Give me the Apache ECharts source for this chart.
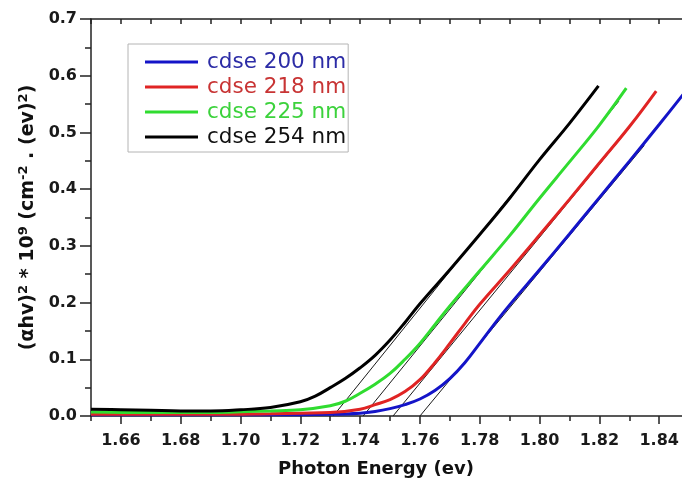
<!DOCTYPE html>
<html>
<head>
<meta charset="utf-8">
<script src="https://cdn.jsdelivr.net/npm/echarts@6/dist/echarts.min.js"></script>
<style>
  html, body { margin: 0; padding: 0; background: #fff; }
  #chart { width: 682px; height: 484px; }
</style>
</head>
<body>
<div id="chart"></div>
<script>
// Tauc plot of CdSe films: (alpha*h*nu)^2 against photon energy.
const seriesNames = ['cdse 200 nm', 'cdse 218 nm', 'cdse 225 nm', 'cdse 254 nm'];
const lineColors = ['#1414c8', '#e02424', '#30dc30', '#000000'];
const legendTextColors = ['#2c2ca6', '#c83434', '#3cd23c', '#111111'];

// Photon energy (eV) and (alpha*h*nu)^2 * 1e9 for each film
const energy200 = [1.65, 1.68, 1.71, 1.73, 1.74, 1.745, 1.75, 1.755, 1.76, 1.765, 1.77, 1.775, 1.78, 1.785, 1.79, 1.80, 1.81, 1.82, 1.83, 1.84, 1.85];
const alpha200  = [0.002, 0.002, 0.002, 0.003, 0.005, 0.008, 0.013, 0.020, 0.030, 0.045, 0.066, 0.094, 0.128, 0.163, 0.196, 0.258, 0.321, 0.385, 0.449, 0.514, 0.580];

const energy218 = [1.65, 1.67, 1.69, 1.71, 1.72, 1.73, 1.74, 1.745, 1.75, 1.755, 1.76, 1.765, 1.77, 1.775, 1.78, 1.79, 1.80, 1.81, 1.82, 1.83, 1.839];
const alpha218  = [0.003, 0.003, 0.003, 0.004, 0.005, 0.006, 0.012, 0.020, 0.029, 0.043, 0.064, 0.094, 0.128, 0.163, 0.197, 0.257, 0.319, 0.382, 0.446, 0.510, 0.573];

const energy225 = [1.65, 1.67, 1.69, 1.70, 1.71, 1.72, 1.73, 1.735, 1.74, 1.745, 1.75, 1.755, 1.76, 1.765, 1.77, 1.78, 1.79, 1.80, 1.81, 1.82, 1.829];
const alpha225  = [0.007, 0.006, 0.006, 0.0075, 0.009, 0.011, 0.018, 0.026, 0.040, 0.056, 0.075, 0.100, 0.128, 0.161, 0.194, 0.256, 0.318, 0.384, 0.448, 0.513, 0.578];

const energy254 = [1.65, 1.66, 1.67, 1.68, 1.69, 1.70, 1.71, 1.72, 1.725, 1.73, 1.735, 1.74, 1.745, 1.75, 1.755, 1.76, 1.77, 1.78, 1.79, 1.80, 1.81, 1.8197];
const alpha254  = [0.012, 0.011, 0.010, 0.009, 0.009, 0.011, 0.015, 0.025, 0.035, 0.050, 0.066, 0.085, 0.107, 0.134, 0.165, 0.198, 0.258, 0.320, 0.384, 0.452, 0.516, 0.582];

// Linear extrapolations to the energy axis (optical band gaps)
const bandGap = [1.760, 1.751, 1.741, 1.731];
const tangentTopEnergy = [1.835, 1.830, 1.8265, 1.815];
const tangentTopValue  = [0.477, 0.508, 0.555, 0.550];

// Axis ticks
const xMajorTicks = [1.66, 1.68, 1.70, 1.72, 1.74, 1.76, 1.78, 1.80, 1.82, 1.84, 1.86];
const xMinorTicks = [1.65, 1.67, 1.69, 1.71, 1.73, 1.75, 1.77, 1.79, 1.81, 1.83, 1.85];
const xAllTicks = xMajorTicks.concat(xMinorTicks).sort((a, b) => a - b);

const energies = [energy200, energy218, energy225, energy254];
const alphas = [alpha200, alpha218, alpha225, alpha254];

const X_MIN = 1.65, X_MAX = 1.86;
const FONT = '"DejaVu Sans", "Liberation Sans", Arial, sans-serif';
const AXIS_COLOR = '#222';

const curveSeries = seriesNames.map((name, i) => ({
  name: name,
  type: 'line',
  xAxisIndex: 0,
  yAxisIndex: 0,
  data: energies[i].map((e, k) => [e, alphas[i][k]]),
  smooth: 0.4,
  showSymbol: false,
  symbol: 'none',
  lineStyle: { color: lineColors[i], width: 3 },
  itemStyle: { color: lineColors[i] },
  z: 3,
  animation: false
}));

const tangentSeries = bandGap.map((g, i) => ({
  name: 'tangent-' + i,
  type: 'line',
  xAxisIndex: 0,
  yAxisIndex: 0,
  data: [[g, 0], [tangentTopEnergy[i], tangentTopValue[i]]],
  showSymbol: false,
  symbol: 'none',
  lineStyle: { color: '#1a1a1a', width: 1 },
  z: 2,
  silent: true,
  animation: false
}));

const chart = echarts.init(document.getElementById('chart'), null, { renderer: 'canvas' });

chart.setOption({
  backgroundColor: '#ffffff',
  animation: false,
  grid: { left: 91, top: 19, bottom: 68, right: -37, containLabel: false, outerBoundsMode: 'none' },
  legend: {
    orient: 'vertical',
    left: 128,
    top: 44,
    padding: [7, 2, 4, 17],
    borderColor: '#b4b4b4',
    borderWidth: 1,
    icon: 'rect',
    itemWidth: 53,
    itemHeight: 3,
    itemGap: 3,
    textStyle: { fontFamily: FONT, fontSize: 21.5, lineHeight: 22, padding: [0, 0, 0, 4] },
    data: seriesNames.map((n, i) => ({ name: n, textStyle: { color: legendTextColors[i] } }))
  },
  xAxis: [
    {
      type: 'value', position: 'bottom', min: X_MIN, max: X_MAX,
      axisLine: { show: true, onZero: false, lineStyle: { color: AXIS_COLOR, width: 1.5 } },
      axisTick: { show: true, inside: false, length: 8, customValues: xMajorTicks, lineStyle: { color: AXIS_COLOR, width: 1.5 } },
      axisLabel: {
        show: true, customValues: xMajorTicks, margin: 17,
        fontFamily: FONT, fontSize: 16, fontWeight: 'bold', color: '#1a1a1a',
        formatter: v => v.toFixed(2)
      },
      splitLine: { show: false },
      name: 'Photon Energy (ev)', nameLocation: 'middle', nameGap: 44,
      nameTextStyle: { fontFamily: FONT, fontSize: 18, fontWeight: 'bold', color: '#111', padding: [0, 58, 0, 0] }
    },
    {
      type: 'value', position: 'bottom', min: X_MIN, max: X_MAX,
      axisLine: { show: false, onZero: false },
      axisTick: { show: true, inside: false, length: 5, customValues: xMinorTicks, lineStyle: { color: AXIS_COLOR, width: 1.5 } },
      axisLabel: { show: false, customValues: xMinorTicks },
      splitLine: { show: false }
    },
    {
      type: 'value', position: 'top', min: X_MIN, max: X_MAX,
      axisLine: { show: true, onZero: false, lineStyle: { color: AXIS_COLOR, width: 1.5 } },
      axisTick: { show: true, inside: true, length: 5, customValues: xAllTicks, lineStyle: { color: AXIS_COLOR, width: 1.5 } },
      axisLabel: { show: false, customValues: xAllTicks },
      splitLine: { show: false }
    }
  ],
  yAxis: [
    {
      type: 'value', position: 'left', min: 0, max: 0.7, interval: 0.1,
      axisLine: { show: true, onZero: false, lineStyle: { color: AXIS_COLOR, width: 1.5 } },
      axisTick: { show: true, inside: false, length: 11, lineStyle: { color: AXIS_COLOR, width: 1.5 } },
      minorTick: { show: true, splitNumber: 2, length: 6, lineStyle: { color: AXIS_COLOR, width: 1.5 } },
      axisLabel: {
        margin: 14, fontFamily: FONT, fontSize: 16, fontWeight: 'bold', color: '#1a1a1a',
        formatter: v => v.toFixed(1)
      },
      splitLine: { show: false },
      name: '(αhv){sup|2} * 10{sup|9} (cm{sup|-2} . (ev){sup|2})',
      nameLocation: 'middle', nameGap: 50, nameRotate: 90,
      nameTextStyle: {
        fontFamily: FONT, fontSize: 19, fontWeight: 'bold', color: '#111',
        rich: {
          sup: { fontFamily: FONT, fontSize: 13, fontWeight: 'bold', color: '#111', padding: [0, 0, 10, 0] }
        }
      }
    }
  ],
  series: tangentSeries.concat(curveSeries)
});
</script>
</body>
</html>
